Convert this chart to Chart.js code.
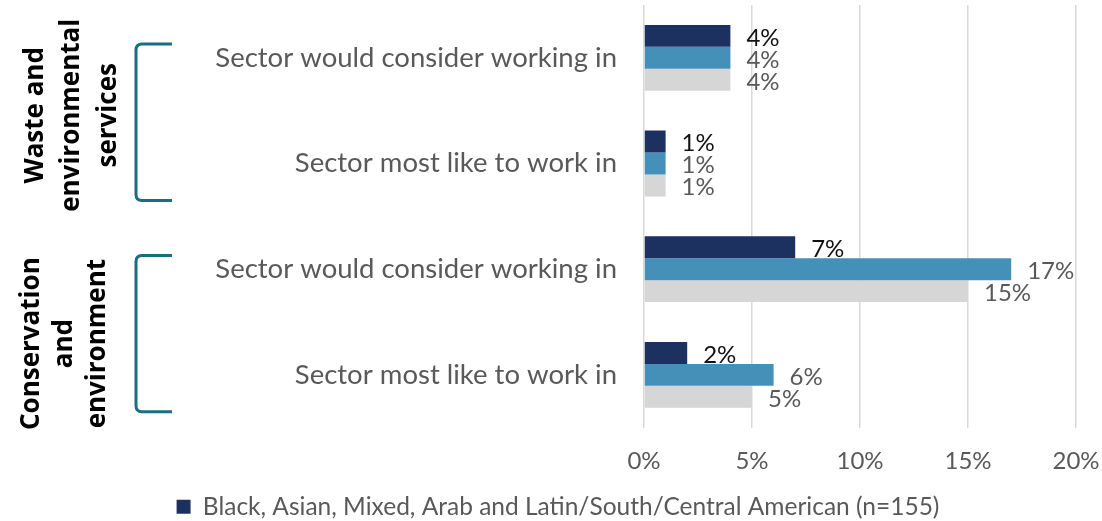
<!DOCTYPE html>
<html>
<head>
<meta charset="utf-8">
<script src="https://cdn.jsdelivr.net/npm/chart.js@4"></script>
<style>
  html, body { margin: 0; padding: 0; background: #fff; }
  #wrap { width: 1102px; height: 521px; }
</style>
</head>
<body>
<div id="wrap"><canvas id="canvas-chart"></canvas></div>
<script>
const categories = [
    "Sector would consider working in",
    "Sector most like to work in",
    "Sector would consider working in",
    "Sector most like to work in"
];
const seriesNames = [
    "Black, Asian, Mixed, Arab and Latin/South/Central American (n=155)",
    "White",
    "All respondents"
];
const minorityValues = [4, 1, 7, 2];
const whiteValues = [4, 1, 17, 6];
const allValues = [4, 1, 15, 5];
const xTicks = [0, 5, 10, 15, 20];

// group headings on the left, each spanning two categories
const groups = [
    { lines: ["Waste and", "environmental", "services"], from: 0, to: 1, dy: -7, spacing: 36.5, cx: 72 },
    { lines: ["Conservation", "and", "environment"], from: 2, to: 3, dy: 10, spacing: 33, cx: 65 }
];

const colors = ["#1c3160", "#4590b9", "#d6d6d6"];
const labelColors = ["#111111", "#595959", "#595959"];
const baseFont = "Lato, 'Open Sans', sans-serif";

const barLabels = {
    id: "barLabels",
    afterDatasetsDraw(chart) {
        const ctx = chart.ctx;
        ctx.save();
        ctx.font = "24px " + baseFont;
        ctx.textAlign = "left";
        ctx.textBaseline = "middle";
        chart.data.datasets.forEach((ds, i) => {
            const meta = chart.getDatasetMeta(i);
            meta.data.forEach((bar, j) => {
                ctx.fillStyle = labelColors[i];
                ctx.fillText(ds.data[j] + "%", bar.x + 16, bar.y + 2);
            });
        });
        ctx.restore();
    }
};

const groupLabels = {
    id: "groupLabels",
    afterLayout(chart) {
        // nudge the legend a little to the right, like the original
        chart.legend.left += 20;
        chart.legend.right += 20;
    },
    afterDraw(chart) {
        const ctx = chart.ctx;
        const y = chart.scales.y;
        const step = y.getPixelForValue(1) - y.getPixelForValue(0);
        ctx.save();
        groups.forEach(g => {
            const top = y.getPixelForValue(g.from) - step * 0.13;
            const bottom = y.getPixelForValue(g.to) + step * 0.35;
            const bx = 136, ex = 172, r = 6;
            ctx.strokeStyle = "#1b6e80";
            ctx.lineWidth = 3;
            ctx.beginPath();
            ctx.moveTo(ex, top);
            ctx.lineTo(bx + r, top);
            ctx.quadraticCurveTo(bx, top, bx, top + r);
            ctx.lineTo(bx, bottom - r);
            ctx.quadraticCurveTo(bx, bottom, bx + r, bottom);
            ctx.lineTo(ex, bottom);
            ctx.stroke();

            const cy = (top + bottom) / 2 + g.dy;
            ctx.fillStyle = "#000";
            ctx.font = "bold 26px 'Open Sans', sans-serif";
            ctx.textAlign = "center";
            ctx.textBaseline = "middle";
            const n = g.lines.length;
            g.lines.forEach((line, k) => {
                const cx = g.cx + (k - (n - 1) / 2) * g.spacing;
                ctx.save();
                ctx.translate(cx, cy);
                ctx.rotate(-Math.PI / 2);
                ctx.fillText(line, 0, 0);
                ctx.restore();
            });
        });
        ctx.restore();
    }
};

const chart = new Chart(document.getElementById("canvas-chart"), {
    type: "bar",
    data: {
        labels: categories,
        datasets: [
            { label: seriesNames[0], data: minorityValues, backgroundColor: colors[0] },
            { label: seriesNames[1], data: whiteValues, backgroundColor: colors[1] },
            { label: seriesNames[2], data: allValues, backgroundColor: colors[2] }
        ]
    },
    options: {
        indexAxis: "y",
        responsive: true,
        maintainAspectRatio: false,
        animation: false,
        barPercentage: 1,
        categoryPercentage: 0.623,
        layout: { padding: { top: 5, right: 26, left: 0, bottom: -8 } },
        plugins: {
            tooltip: { enabled: false },
            legend: {
                position: "bottom",
                labels: {
                    filter: item => item.datasetIndex === 0,
                    boxWidth: 14,
                    boxHeight: 14,
                    color: "#595959",
                    padding: 0,
                    font: { size: 24.5, family: baseFont }
                }
            }
        },
        scales: {
            x: {
                min: 0,
                max: 20,
                afterBuildTicks: axis => { axis.ticks = xTicks.map(v => ({ value: v })); },
                afterFit: axis => {
                    axis.paddingLeft = 0;
                    axis.paddingRight = 0;
                },
                grid: { color: "#d9d9d9", lineWidth: 1.5, drawTicks: false },
                border: { display: false },
                ticks: {
                    padding: 19,
                    color: "#595959",
                    font: { size: 24, family: baseFont },
                    callback: v => v + "%"
                }
            },
            y: {
                grid: { display: false, drawTicks: false },
                border: { display: false },
                afterFit: axis => {
                    axis.width = 644;
                    axis.paddingTop = 0;
                    axis.paddingBottom = 0;
                },
                ticks: {
                    padding: 27,
                    color: "#595959",
                    font: { size: 27.5, family: baseFont }
                }
            }
        }
    },
    plugins: [barLabels, groupLabels]
});
</script>
</body>
</html>
